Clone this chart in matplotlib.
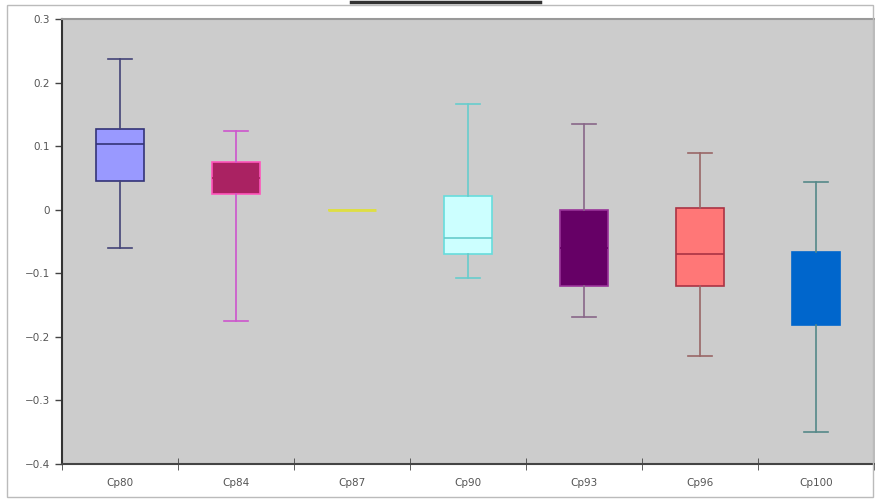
import matplotlib
matplotlib.use('Agg')
import matplotlib.pyplot as plt
from matplotlib.lines import Line2D
from matplotlib.patches import Rectangle
import numpy as np

labels = ['Cp80', 'Cp84', 'Cp87', 'Cp90', 'Cp93', 'Cp96', 'Cp100']
whisker_hi = [0.237, 0.124, 0.0, 0.166, 0.135, 0.089, 0.044]
q3 = [0.127, 0.075, 0.0, 0.022, 0.0, 0.003, -0.066]
median = [0.104, 0.050, 0.0, -0.044, -0.060, -0.070, -0.120]
q1 = [0.045, 0.025, 0.0, -0.070, -0.120, -0.120, -0.181]
whisker_lo = [-0.060, -0.175, 0.0, -0.107, -0.168, -0.230, -0.349]

face_colors = ['#9999ff', '#aa2262', '#dede44', '#ccffff', '#660066', '#ff7777', '#0066cc']
edge_colors = ['#333377', '#ff55bb', '#dede44', '#66dddd', '#993399', '#aa3344', '#0066cc']
whisker_colors = ['#444477', '#cc55cc', '#dede44', '#66cccc', '#886688', '#996666', '#558888']
median_colors = ['#333377', '#aa2262', '#dede44', '#66cccc', '#660066', '#aa3344', '#0066cc']

stats = []
for i, name in enumerate(labels):
    stats.append({'label': name, 'med': median[i], 'q1': q1[i], 'q3': q3[i],
                  'whislo': whisker_lo[i], 'whishi': whisker_hi[i], 'fliers': []})

fig = plt.figure(figsize=(8.75, 4.99), dpi=100)
ax = fig.add_axes([62 / 875, 1 - 464 / 499, 812 / 875, 445 / 499])
ax.set_facecolor('#cccccc')

pos = np.arange(len(labels))
bp = ax.bxp(stats, positions=pos, widths=0.41, patch_artist=True, showfliers=False)
for i in range(len(labels)):
    bp['boxes'][i].set_facecolor(face_colors[i])
    bp['boxes'][i].set_edgecolor(edge_colors[i])
    bp['boxes'][i].set_linewidth(1.2)
    bp['medians'][i].set_color(median_colors[i])
    bp['medians'][i].set_linewidth(1.2)
    for j in (2 * i, 2 * i + 1):
        bp['whiskers'][j].set_color(whisker_colors[i])
        bp['whiskers'][j].set_linewidth(1.2)
        bp['caps'][j].set_color(whisker_colors[i])
        bp['caps'][j].set_linewidth(1.2)
# the flat Cp87 box reads as a single thicker line
bp['medians'][2].set_linewidth(2)

ax.set_xlim(-0.5, len(labels) - 0.5)
ax.set_ylim(-0.4, 0.3)

yt = np.round(np.arange(-0.4, 0.31, 0.1), 1)
ax.set_yticks(yt)
ax.set_yticklabels(['0' if v == 0 else f'{v:g}'.replace('-', '\u2212') for v in yt])
ax.set_xticks(pos)
ax.set_xticklabels(labels)
ax.set_xticks(np.arange(-0.5, len(labels), 1.0), minor=True)
ax.tick_params(axis='x', which='major', length=0, pad=10, labelsize=7.5, labelcolor='#555555')
ax.tick_params(axis='x', which='minor', direction='inout', length=8, color='#444444')
ax.tick_params(axis='y', length=5, width=1, color='#444444', labelsize=7.5, labelcolor='#555555')

ax.spines['left'].set_color('#333333')
ax.spines['left'].set_linewidth(1.5)
ax.spines['bottom'].set_color('#444444')
ax.spines['bottom'].set_linewidth(1.5)
ax.spines['top'].set_color('#999999')
ax.spines['top'].set_linewidth(1.5)
ax.spines['right'].set_color('#bbbbbb')

# outer frame and the strip above the plot
fig.add_artist(Rectangle((7 / 875, 2 / 499), 866 / 875, 492 / 499, transform=fig.transFigure,
                         fill=False, edgecolor='#bbbbbb', linewidth=1))
fig.add_artist(Line2D([351 / 875, 540 / 875], [1 - 1.5 / 499, 1 - 1.5 / 499],
                      transform=fig.transFigure, color='#333333', linewidth=2.5))

fig.savefig('out.png', dpi=100)
